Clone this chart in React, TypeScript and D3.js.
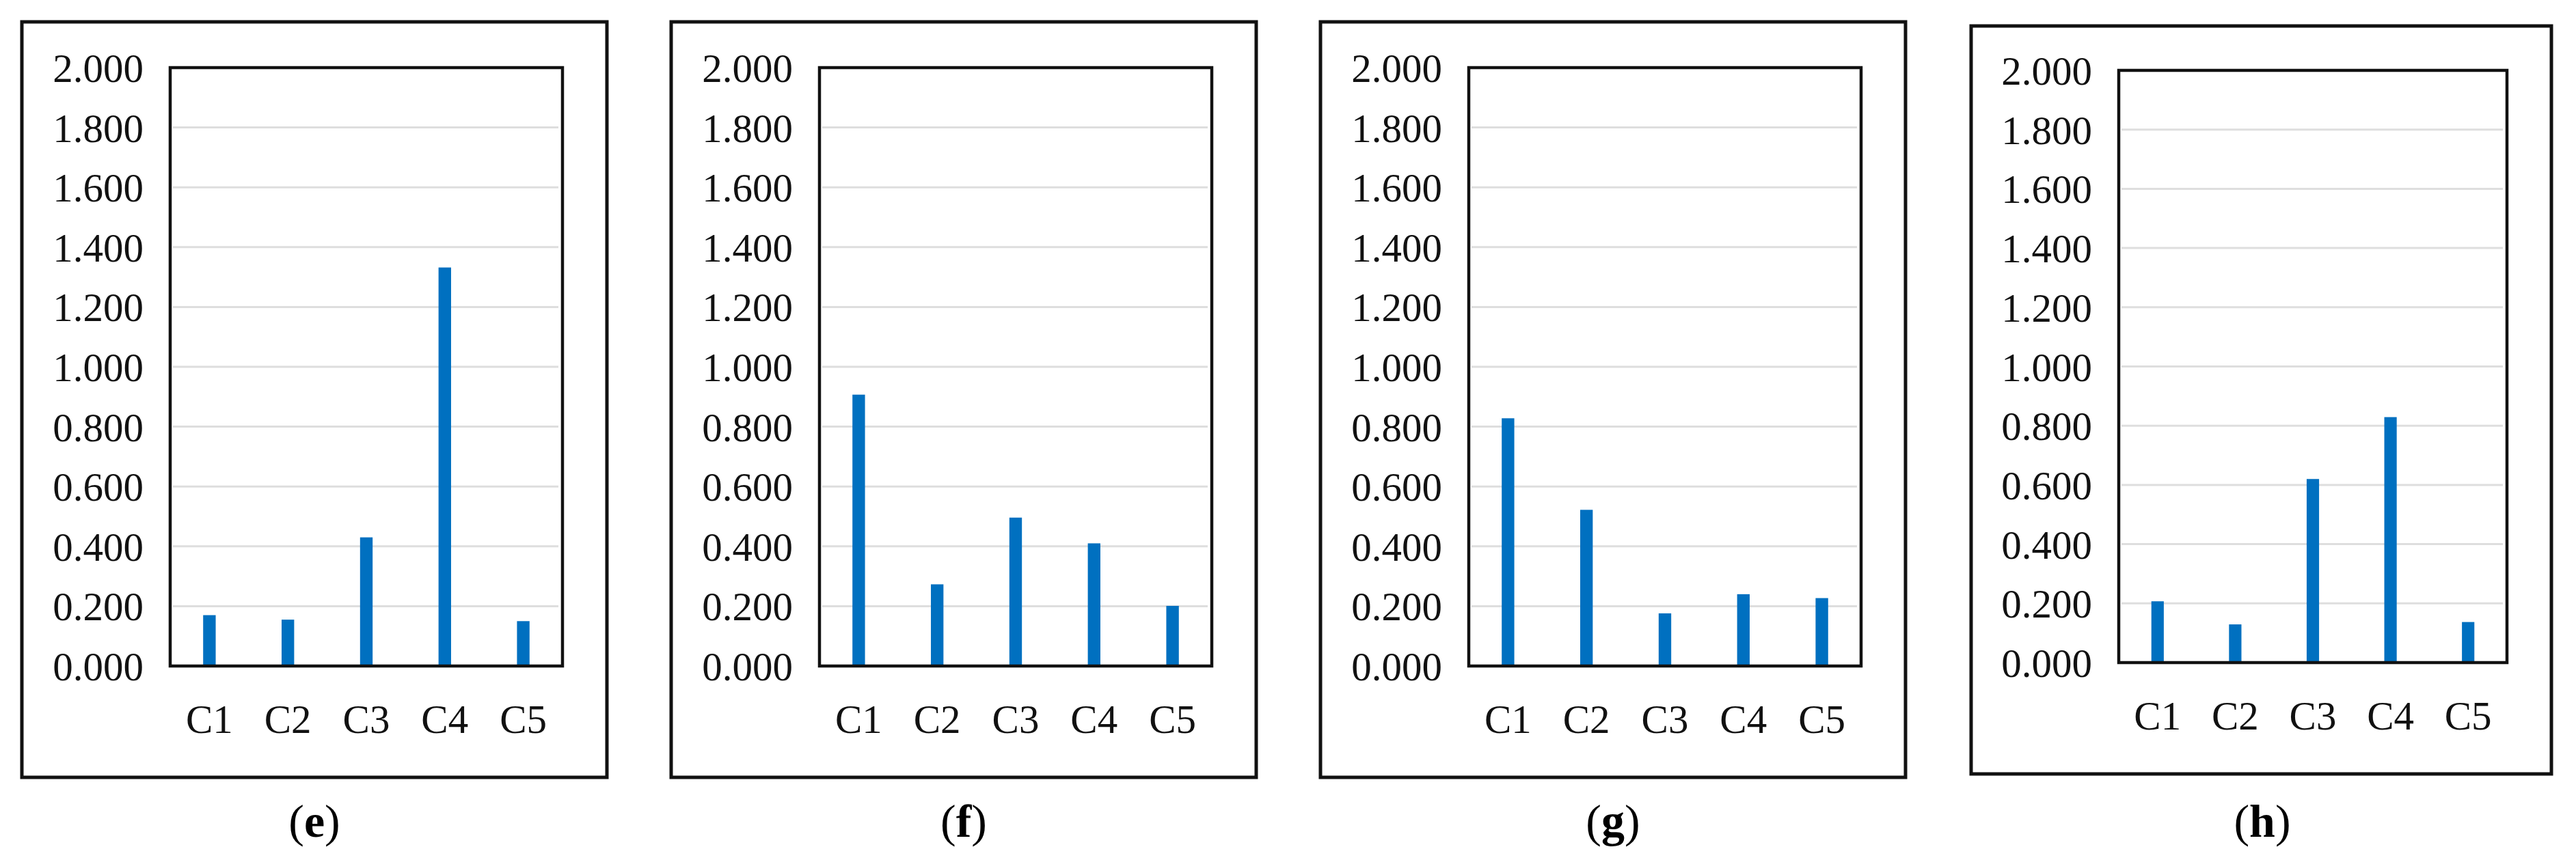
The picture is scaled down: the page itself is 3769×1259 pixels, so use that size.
import React, { useEffect, useRef } from "react";
import * as d3 from "d3";

const categories = ["C1", "C2", "C3", "C4", "C5"];
const panelNames = ["e", "f", "g", "h"];
const valuesE = [0.17, 0.155, 0.43, 1.332, 0.15];
const valuesF = [0.907, 0.273, 0.496, 0.41, 0.201];
const valuesG = [0.828, 0.522, 0.176, 0.24, 0.227];
const valuesH = [0.207, 0.129, 0.62, 0.829, 0.137];
const yTicks = [0, 0.2, 0.4, 0.6, 0.8, 1.0, 1.2, 1.4, 1.6, 1.8, 2.0];

const series = [valuesE, valuesF, valuesG, valuesH];

// frame + plot boxes per panel (page px)
const layout = [
  { fx0: 32, fx1: 888, fy0: 32, fy1: 1138, px0: 249, px1: 823, py0: 99, py1: 975, lx: 460 },
  { fx0: 982, fx1: 1838, fy0: 32, fy1: 1138, px0: 1199, px1: 1773, py0: 99, py1: 975, lx: 1410 },
  { fx0: 1932, fx1: 2788, fy0: 32, fy1: 1138, px0: 2149, px1: 2723, py0: 99, py1: 975, lx: 2360 },
  { fx0: 2884, fx1: 3733, fy0: 38, fy1: 1133, px0: 3100, px1: 3668, py0: 103, py1: 970, lx: 3310 },
];

const W = 3769;
const H = 1259;
const FONT = "'Liberation Serif', 'Times New Roman', serif";

const App = () => {
  const ref = useRef<SVGSVGElement>(null);

  useEffect(() => {
    if (!ref.current) return;
    const svg = d3.select(ref.current);
    svg.selectAll("*").remove();

    svg.append("rect").attr("width", W).attr("height", H).attr("fill", "#fff");

    series.forEach((vals, i) => {
      const L = layout[i];
      const g = svg.append("g");

      const x = d3
        .scaleBand<string>()
        .domain(categories)
        .range([L.px0, L.px1])
        .paddingInner(0.84)
        .paddingOuter(0.42);
      const y = d3.scaleLinear().domain([0, 2]).range([L.py1, L.py0]);

      // outer frame
      g.append("rect")
        .attr("x", L.fx0)
        .attr("y", L.fy0)
        .attr("width", L.fx1 - L.fx0)
        .attr("height", L.fy1 - L.fy0)
        .attr("fill", "none")
        .attr("stroke", "#111")
        .attr("stroke-width", 5);

      // gridlines
      g.selectAll("line.grid")
        .data(yTicks.filter((t) => t > 0 && t < 2))
        .join("line")
        .attr("class", "grid")
        .attr("x1", L.px0 + 4)
        .attr("x2", L.px1 - 6)
        .attr("y1", (d) => y(d))
        .attr("y2", (d) => y(d))
        .attr("stroke", "#dedede")
        .attr("stroke-width", 3);

      // bars
      g.selectAll("rect.bar")
        .data(vals)
        .join("rect")
        .attr("class", "bar")
        .attr("x", (_, j) => x(categories[j])!)
        .attr("width", x.bandwidth())
        .attr("y", (d) => y(d))
        .attr("height", (d) => y(0) - y(d))
        .attr("fill", "#0070c0");

      // plot box
      g.append("rect")
        .attr("x", L.px0)
        .attr("y", L.py0)
        .attr("width", L.px1 - L.px0)
        .attr("height", L.py1 - L.py0)
        .attr("fill", "none")
        .attr("stroke", "#111")
        .attr("stroke-width", 4.5);

      // y tick labels
      g.selectAll("text.ytick")
        .data(yTicks)
        .join("text")
        .attr("class", "ytick")
        .attr("x", L.px0 - 39)
        .attr("y", (d) => y(d) + 21)
        .attr("text-anchor", "end")
        .attr("font-family", FONT)
        .attr("font-size", 59)
        .attr("fill", "#111")
        .text((d) => d.toFixed(3));

      // category labels
      g.selectAll("text.xtick")
        .data(categories)
        .join("text")
        .attr("class", "xtick")
        .attr("x", (d) => x(d)! + x.bandwidth() / 2)
        .attr("y", L.py1 + 98)
        .attr("text-anchor", "middle")
        .attr("font-family", FONT)
        .attr("font-size", 59)
        .attr("fill", "#111")
        .text((d) => d);

      // panel caption
      const cap = g
        .append("text")
        .attr("x", L.lx)
        .attr("y", 1225)
        .attr("text-anchor", "middle")
        .attr("font-family", FONT)
        .attr("font-size", 68)
        .attr("fill", "#000");
      cap.append("tspan").text("(");
      cap.append("tspan").attr("font-weight", "bold").text(panelNames[i]);
      cap.append("tspan").text(")");
    });
  }, []);

  return (
    <svg
      ref={ref}
      width={W}
      height={H}
      style={{ position: "absolute", left: 0, top: 0, display: "block" }}
    />
  );
};

export default App;
